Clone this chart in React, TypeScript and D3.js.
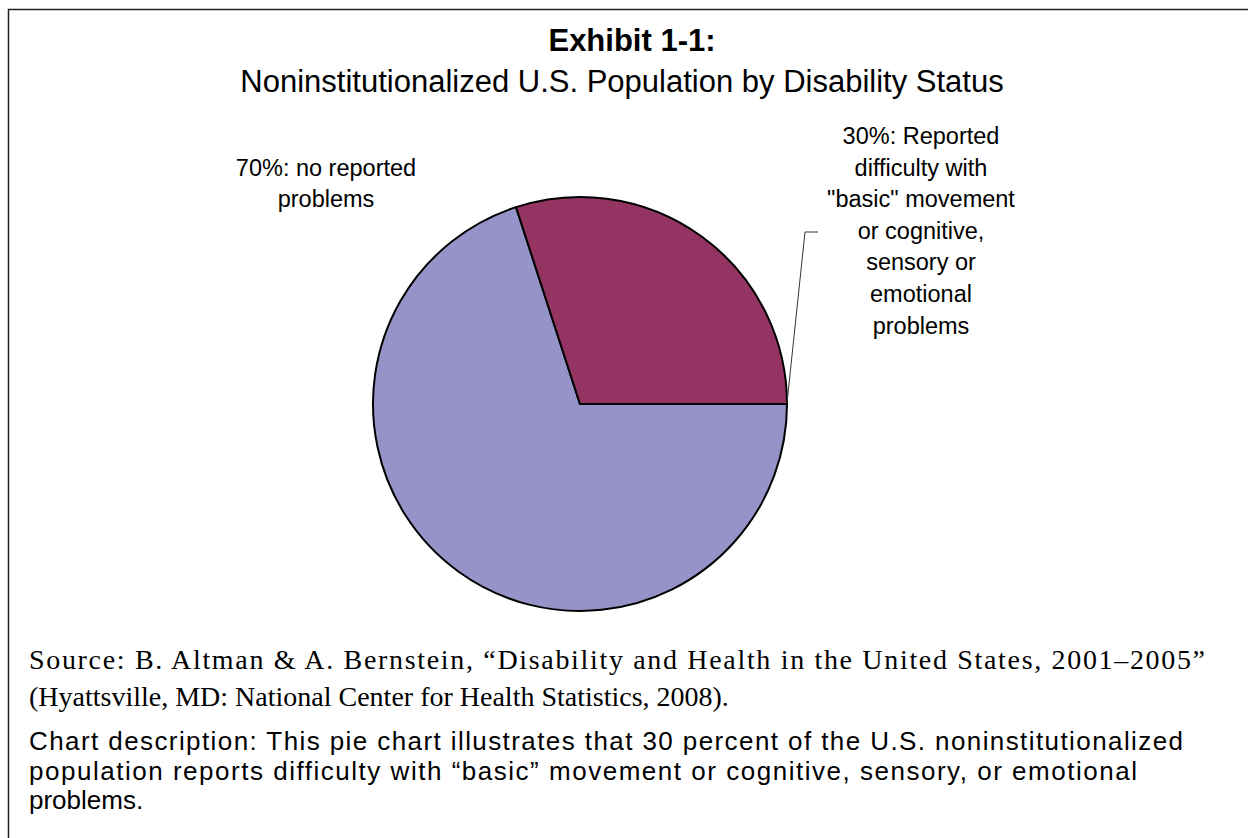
import React from "react";
import * as d3 from "d3";

const categories = ["No reported problems", "Reported difficulty"];
const values = [70, 30];
const colors = ["#9693C8", "#943462"];
const leftLabel = ["70%: no reported", "problems"];
const rightLabel = [
  "30%: Reported",
  "difficulty with",
  "\"basic\" movement",
  "or cognitive,",
  "sensory or",
  "emotional",
  "problems",
];
const titleLine1 = "Exhibit 1-1:";
const titleLine2 = "Noninstitutionalized U.S. Population by Disability Status";
const sourceLines = [
  "Source: B. Altman & A. Bernstein, \u201cDisability and Health in the United States, 2001\u20132005\u201d",
  "(Hyattsville, MD: National Center for Health Statistics, 2008).",
];
const sourceWidths = [1176, null];
const descLines = [
  "Chart description: This pie chart illustrates that 30 percent of the U.S. noninstitutionalized",
  "population reports difficulty with \u201cbasic\u201d movement or cognitive, sensory, or emotional",
  "problems.",
];
const descWidths = [1154, 1108, null];

export default function App() {
  const W = 1248, H = 838;
  const cx = 580, cy = 404, r = 207;
  const pie = d3.pie<number>().sort(null).startAngle(Math.PI / 2).endAngle(Math.PI / 2 + 2 * Math.PI);
  const arcs = pie(values);
  const arc = d3.arc<d3.PieArcDatum<number>>().innerRadius(0).outerRadius(r);
  const sans = "'Liberation Sans', Arial, sans-serif";
  const serif = "'Liberation Serif', 'Times New Roman', serif";
  const ang = arcs[1].endAngle;
  const ex = cx + Math.sin(ang) * r;
  const ey = cy - Math.cos(ang) * r;
  return (
    <div style={{ position: "absolute", left: 0, top: 0 }}>
      <svg width={W} height={H} style={{ display: "block" }}>
        <rect x={0} y={0} width={W} height={H} fill="#fff" />
        <path d={`M8.5,${H} L8.5,9.5 L${W},9.5`} fill="none" stroke="#222" strokeWidth={1.5} />
        <text x={632} y={51} textAnchor="middle" fontFamily={sans} fontWeight="bold" fontSize={31}>{titleLine1}</text>
        <text x={622} y={92} textAnchor="middle" fontFamily={sans} fontSize={31}>{titleLine2}</text>
        <g transform={`translate(${cx},${cy})`}>
          {arcs.map((a, i) => (
            <path key={categories[i]} d={arc(a) || ""} fill={colors[i]} stroke="#000" strokeWidth={2} strokeLinejoin="round" />
          ))}
        </g>
        <polyline points={`${ex},${ey - 1} 805,232 818,232`} fill="none" stroke="#333" strokeWidth={1} />
        {leftLabel.map((t, i) => (
          <text key={t} x={326} y={176 + i * 31} textAnchor="middle" fontFamily={sans} fontSize={23.5}>{t}</text>
        ))}
        {rightLabel.map((t, i) => (
          <text key={t} x={921} y={144 + i * 31.6} textAnchor="middle" fontFamily={sans} fontSize={23.5}>{t}</text>
        ))}
        {sourceLines.map((t, i) => (
          <text key={t} x={29} y={669 + i * 37} fontFamily={serif} fontSize={28}
            {...(sourceWidths[i] ? { textLength: sourceWidths[i], lengthAdjust: "spacing" } : {})}>{t}</text>
        ))}
        {descLines.map((t, i) => (
          <text key={t} x={29} y={750 + i * 29.5} fontFamily={sans} fontSize={26}
            {...(descWidths[i] ? { textLength: descWidths[i], lengthAdjust: "spacing" } : {})}>{t}</text>
        ))}
      </svg>
    </div>
  );
}
